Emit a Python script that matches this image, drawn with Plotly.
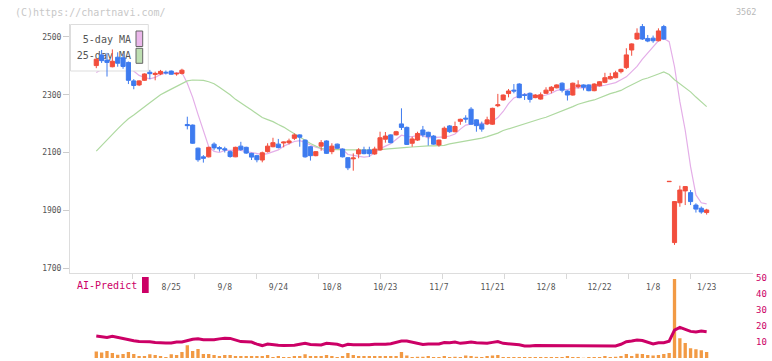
import plotly.graph_objects as go

# ---------------- data ----------------
DATES = ["8/4","8/5","8/6","8/7","8/8","8/12","8/13","8/14","8/15","8/18","8/19","8/20","8/21","8/22",
         "8/25","8/26","8/27","8/28","8/29",
         "9/1","9/2","9/3","9/4","9/5","9/8","9/9","9/10","9/11","9/12","9/16","9/17","9/18","9/19",
         "9/22","9/24","9/25","9/26","9/29","9/30",
         "10/1","10/2","10/3","10/6","10/7","10/8","10/9","10/10","10/14","10/15","10/16","10/17",
         "10/20","10/21","10/22","10/23","10/24","10/27","10/28","10/29","10/30","10/31",
         "11/4","11/5","11/6","11/7","11/10","11/11","11/12","11/13","11/14","11/17","11/18","11/19",
         "11/20","11/21","11/25","11/26","11/27","11/28",
         "12/1","12/2","12/3","12/4","12/5","12/8","12/9","12/10","12/11","12/12","12/15","12/16",
         "12/17","12/18","12/19","12/22","12/23","12/24","12/25","12/26","12/29","12/30",
         "1/5","1/6","1/7","1/8","1/9","1/13","1/14","1/15","1/16","1/19","1/20","1/21","1/22","1/23"]

OPEN = [2401,2438,2420,2397,2430,2428,2412,2348,2334,2350,2378,2370,2372,2378,
        2382,2372,2374,2197,2195,2115,2085,2085,2129,2117,2113,2103,2085,2122,2118,2097,
        2089,2074,2103,2120,2129,2133,2134,2149,2161,2143,2120,2089,2122,2140,2103,2129,
        2112,2082,2078,2095,2109,2109,2095,2109,2146,2161,2161,2199,2187,2132,2143,2178,
        2170,2157,2126,2149,2192,2172,2208,2219,2250,2213,2198,2199,2198,2262,2282,2304,
        2316,2337,2300,2305,2290,2285,2305,2314,2324,2340,2313,2299,2328,2334,2334,2314,
        2331,2343,2355,2359,2380,2394,2455,2493,2536,2495,2496,2487,2536,1999,1788,1926,
        1967,1961,1918,1907,1892]
HIGH = [2426,2455,2445,2457,2447,2440,2415,2354,2350,2374,2386,2380,2386,2384,
        2384,2377,2390,2224,2197,2117,2091,2120,2135,2122,2120,2107,2120,2137,2120,2099,
        2092,2103,2132,2151,2147,2138,2148,2166,2163,2145,2122,2105,2143,2142,2132,2131,
        2114,2084,2097,2115,2120,2120,2120,2172,2171,2163,2175,2253,2190,2155,2172,2192,
        2172,2160,2145,2190,2195,2207,2217,2229,2257,2215,2207,2224,2255,2303,2301,2320,
        2337,2340,2305,2308,2302,2308,2326,2330,2336,2343,2315,2342,2350,2336,2336,2340,
        2347,2376,2376,2383,2390,2461,2478,2530,2545,2507,2505,2530,2542,2000,1932,1985,
        1983,1970,1924,1913,1905]
LOW = [2392,2410,2363,2395,2397,2390,2337,2319,2330,2348,2354,2350,2368,2370,
       2370,2366,2370,2180,2130,2068,2065,2083,2108,2103,2100,2082,2084,2106,2095,2074,
       2066,2066,2100,2118,2114,2118,2128,2143,2120,2082,2072,2087,2106,2095,2094,2113,
       2083,2039,2037,2080,2094,2085,2092,2106,2134,2132,2159,2178,2126,2120,2140,2153,
       2124,2127,2120,2147,2168,2170,2196,2203,2196,2172,2172,2195,2196,2257,2280,2291,
       2305,2288,2282,2273,2288,2283,2303,2305,2322,2308,2280,2297,2322,2315,2312,2312,
       2329,2340,2352,2357,2374,2389,2435,2490,2490,2482,2480,2485,2490,1999,1780,1912,
       1918,1918,1892,1888,1885]
CLOSE = [2423,2418,2412,2416,2409,2398,2350,2332,2348,2372,2373,2374,2381,2376,
         2371,2374,2385,2193,2132,2075,2080,2118,2116,2113,2109,2086,2118,2110,2098,2084,
         2075,2099,2122,2134,2117,2136,2140,2161,2153,2085,2089,2103,2134,2097,2122,2115,
         2085,2047,2081,2109,2096,2096,2112,2151,2157,2134,2172,2187,2128,2147,2166,2161,
         2155,2129,2143,2184,2172,2190,2215,2216,2198,2193,2181,2213,2253,2265,2299,2313,
         2313,2290,2298,2284,2299,2300,2316,2326,2334,2316,2299,2340,2334,2326,2314,2337,
         2345,2359,2363,2376,2388,2438,2476,2513,2493,2486,2487,2521,2493,2000,1930,1970,
         1982,1930,1904,1894,1901]

MA5 = [2377,2388,2398,2408,2416,2411,2397,2381,2367,2360,2355,2360,2370,2375,
       2375,2375,2377,2340,2291,2232,2173,2120,2104,2100,2107,2108,2108,2107,2104,2099,
       2097,2093,2096,2103,2109,2122,2130,2138,2141,2135,2126,2118,2113,2102,2109,2114,
       2111,2093,2090,2087,2084,2086,2099,2113,2122,2130,2145,2160,2156,2154,2160,2158,
       2151,2152,2151,2154,2157,2164,2181,2195,2198,2202,2201,2200,2208,2221,2242,2269,
       2289,2296,2303,2300,2297,2294,2299,2305,2315,2318,2318,2323,2325,2323,2323,2330,
       2330,2333,2337,2342,2352,2362,2380,2398,2423,2443,2466,2487,2495,2484,2397,2276,
       2177,2051,1953,1926,1922]
MA25 = [2105,2125,2144,2163,2182,2200,2217,2230,2243,2257,2272,2286,2300,2310,
        2319,2328,2338,2348,2351,2351,2350,2345,2338,2326,2314,2300,2284,2270,2259,2247,
        2233,2221,2214,2207,2197,2188,2176,2165,2152,2142,2131,2122,2114,2111,2110,2109,
        2109,2109,2109,2109,2109,2109,2109,2110,2112,2114,2116,2117,2118,2119,2121,2122,
        2123,2123,2123,2125,2130,2133,2137,2140,2143,2146,2150,2155,2160,2167,2176,2182,
        2189,2195,2201,2207,2212,2217,2222,2229,2236,2244,2252,2259,2267,2273,2278,2282,
        2289,2298,2304,2309,2315,2325,2335,2345,2353,2358,2364,2372,2379,2370,2352,2338,
        2323,2310,2292,2274,2259]

VOLUME = [4.0,3.4,4.4,3.2,2.1,2.5,3.8,2.5,1.3,1.3,2.3,1.9,1.3,0.6,
          2.3,1.9,3.8,8.0,4.4,5.7,2.5,2.5,1.9,1.3,1.9,1.9,1.3,1.3,1.3,1.3,
          1.3,1.3,1.9,0.6,1.3,0.6,0.6,1.3,1.3,2.3,1.3,1.3,1.3,1.9,1.3,0.6,
          1.3,3.2,1.9,1.3,1.3,1.3,1.3,1.3,1.3,1.3,1.3,3.8,1.5,0.7,0.8,0.8,
          1.3,0.7,0.7,1.3,0.7,0.8,0.7,1.5,1.3,0.8,0.7,1.3,1.5,1.9,0.7,0.7,
          0.7,0.7,0.7,0.7,0.7,0.7,0.7,0.7,0.7,0.7,1.3,0.7,0.7,0.2,0.7,0.7,
          0.7,1.3,0.7,0.8,1.3,2.5,1.3,2.7,2.5,1.9,1.5,1.9,2.5,3.2,49.5,12.4,
          9.4,6.1,5.5,4.9,3.8]
AI_PREDICT = [13.8,13.2,12.9,13.6,12.9,11.8,11.1,10.8,10.3,10.4,10.2,9.7,9.4,9.4,
              9.4,10.0,10.0,10.9,11.8,12.0,11.5,11.5,11.5,12.0,12.4,12.3,11.5,10.3,10.2,10.0,
              8.7,7.8,8.8,8.2,8.0,7.9,7.9,8.0,8.6,9.2,8.5,8.2,8.2,9.2,9.0,8.6,
              7.6,8.6,8.3,8.2,8.0,8.3,8.6,8.4,8.6,9.0,9.7,10.6,10.6,9.8,8.9,8.5,
              8.8,8.8,8.8,9.7,9.6,10.0,9.2,9.6,10.0,9.6,9.6,9.2,9.8,10.3,9.2,9.0,
              8.8,8.3,7.6,7.5,7.9,7.9,7.9,7.9,7.9,7.9,7.7,7.7,7.7,7.7,7.7,7.7,
              7.9,7.7,7.6,7.6,8.6,10.2,10.7,11.3,11.0,9.8,8.8,9.6,9.6,10.5,17.5,19.2,
              17.9,16.7,16.3,16.9,16.5]

TICK_LABELS = ["8/25","9/8","9/24","10/8","10/23","11/7","11/21","12/8","12/22","1/8","1/23"]
PRICE_TICKS = [1700, 1900, 2100, 2300, 2500]
AI_TICKS = [0, 10, 20, 30, 40, 50]

for name, arr in [("OPEN", OPEN), ("HIGH", HIGH), ("LOW", LOW), ("CLOSE", CLOSE),
                  ("MA5", MA5), ("MA25", MA25), ("VOLUME", VOLUME), ("AI", AI_PREDICT)]:
    assert len(arr) == len(DATES), (name, len(arr), len(DATES))

POS = list(range(len(DATES)))
TICK_POS = [DATES.index(t) for t in TICK_LABELS]

# ---------------- layout geometry ----------------
W, H = 772, 361
PL, PR = 70, 753           # plot left / right (px)
MT, MB = 24, 273           # main panel top / bottom (px)
LT, LB = 278.3, 358        # lower panel top / bottom (px)
X_LO, X_HI = -4.91, 122.66
Y_LO, Y_HI = 1682.7, 2545.0

RED = "#F24E3D"
BLUE = "#3E7BEF"
PINK = "#E4AEE8"
GREEN = "#AED9A0"
MAG = "#CC0066"
ORANGE = "#F29A44"
FONT = "DejaVu Sans Mono"


def px2x(px):
    return X_LO + (px - PL) / (PR - PL) * (X_HI - X_LO)


def px2y(py):
    return Y_HI - (py - MT) / (MB - MT) * (Y_HI - Y_LO)


def fx(px):
    return px / W


def fy(py):
    return 1 - py / H


fig = go.Figure()

# moving averages (main subplot)
fig.add_trace(go.Scatter(x=POS, y=MA5, mode="lines", line=dict(color=PINK, width=1.2),
                         xaxis="x", yaxis="y", hoverinfo="skip"))
fig.add_trace(go.Scatter(x=POS, y=MA25, mode="lines", line=dict(color=GREEN, width=1.2),
                         xaxis="x", yaxis="y", hoverinfo="skip"))

# legend box (drawn over MA lines but under candles)
bx0, bx1 = px2x(70.5), px2x(148.3)
by0, by1 = px2y(24.5), px2y(71)
fig.add_trace(go.Scatter(x=[bx0, bx1, bx1, bx0, bx0], y=[by0, by0, by1, by1, by0],
                         mode="lines", fill="toself", fillcolor="white",
                         line=dict(color="#DDDDDD", width=1),
                         xaxis="x", yaxis="y", hoverinfo="skip"))
fig.add_trace(go.Scatter(x=[px2x(131), px2x(131)], y=[px2y(40.5), px2y(56)],
                         mode="text", text=["5-day MA", "25-day MA"],
                         textposition="middle left",
                         textfont=dict(family=FONT, size=10, color="#555555"),
                         xaxis="x", yaxis="y", hoverinfo="skip", cliponaxis=False))

# candles (overlay axis so they sit above the legend box)
fig.add_trace(go.Candlestick(
    x=POS, open=OPEN, high=HIGH, low=LOW, close=CLOSE,
    increasing=dict(line=dict(color=RED, width=1), fillcolor=RED),
    decreasing=dict(line=dict(color=BLUE, width=1), fillcolor=BLUE),
    whiskerwidth=0, xaxis="x", yaxis="y3", hoverinfo="skip"))

# lower panel
fig.add_trace(go.Bar(x=POS, y=VOLUME, marker=dict(color=ORANGE, line=dict(width=0)),
                     xaxis="x2", yaxis="y2", hoverinfo="skip"))
fig.add_trace(go.Scatter(x=POS, y=AI_PREDICT, mode="lines", line=dict(color=MAG, width=3),
                         xaxis="x2", yaxis="y2", hoverinfo="skip"))

dtick_minor = (X_HI - X_LO) / 11

fig.update_layout(
    width=W, height=H, margin=dict(l=0, r=0, t=0, b=0, autoexpand=False),
    paper_bgcolor="white", plot_bgcolor="white",
    showlegend=False, boxgap=0.12, boxgroupgap=0.12, bargap=0.38,
    hovermode=False,
    font=dict(family=FONT, color="#555555", size=8),
    xaxis=dict(domain=[fx(PL), fx(PR)], range=[X_LO, X_HI], anchor="y", automargin=False,
               showgrid=False, zeroline=False, showline=True, linecolor="#DDDDDD",
               ticks="inside", ticklen=0, tickmode="array", tickvals=TICK_POS,
               ticktext=TICK_LABELS, tickfont=dict(family=FONT, size=8, color="#555555"),
               ticklabelstandoff=6,
               minor=dict(tickmode="linear", tick0=X_LO, dtick=dtick_minor,
                          ticklen=5, tickcolor="#D8D8D8", tickwidth=1, showgrid=False),
               rangeslider=dict(visible=False)),
    yaxis=dict(domain=[fy(MB), fy(MT)], range=[Y_LO, Y_HI], anchor="x", automargin=False,
               showgrid=False, zeroline=False, showline=True, linecolor="#DDDDDD",
               ticks="outside", ticklen=6, tickcolor="#CCCCCC",
               tickmode="array", tickvals=PRICE_TICKS,
               tickfont=dict(family=FONT, size=8, color="#555555")),
    yaxis3=dict(overlaying="y", range=[Y_LO, Y_HI], visible=False, anchor="x",
                automargin=False),
    xaxis2=dict(domain=[fx(PL), fx(PR)], range=[X_LO, X_HI], anchor="y2", automargin=False,
                showgrid=False, zeroline=False, showline=False, showticklabels=False,
                ticks=""),
    yaxis2=dict(domain=[fy(LB), fy(LT)], range=[0, 50], anchor="x2", side="right",
                automargin=False,
                showgrid=False, zeroline=False, showline=False, ticks="",
                tickmode="array", tickvals=AI_TICKS, ticklabelstandoff=2,
                tickfont=dict(family=FONT, size=9, color=MAG)),
    shapes=[
        dict(type="rect", xref="paper", yref="paper", x0=fx(136), x1=fx(142.7),
             y0=fy(46.5), y1=fy(31), fillcolor="#EBB8EB", line=dict(color="#666666", width=1)),
        dict(type="rect", xref="paper", yref="paper", x0=fx(136), x1=fx(142.7),
             y0=fy(63.3), y1=fy(48.3), fillcolor="#BEDFB2", line=dict(color="#666666", width=1)),
        dict(type="rect", xref="paper", yref="paper", x0=fx(142), x1=fx(148.7),
             y0=fy(293), y1=fy(277), fillcolor=MAG, line=dict(width=0)),
    ],
    annotations=[
        dict(text="(C)https://chartnavi.com/", xref="paper", yref="paper",
             x=fx(13), y=fy(12), xanchor="left", yanchor="middle", showarrow=False,
             font=dict(family=FONT, size=10, color="#C8C8C8")),
        dict(text="3562", xref="paper", yref="paper", x=fx(758), y=fy(12),
             xanchor="right", yanchor="middle", showarrow=False,
             font=dict(family=FONT, size=8.5, color="#B8B8B8")),
        dict(text="AI-Predict", xref="paper", yref="paper", x=fx(75), y=fy(285),
             xanchor="left", yanchor="middle", showarrow=False,
             font=dict(family=FONT, size=10, color=MAG)),
    ],
)

fig.write_html("out.html", config=dict(displayModeBar=False, staticPlot=True),
               post_script="document.body.style.margin='0';"
                           "document.body.style.overflow='hidden';")
